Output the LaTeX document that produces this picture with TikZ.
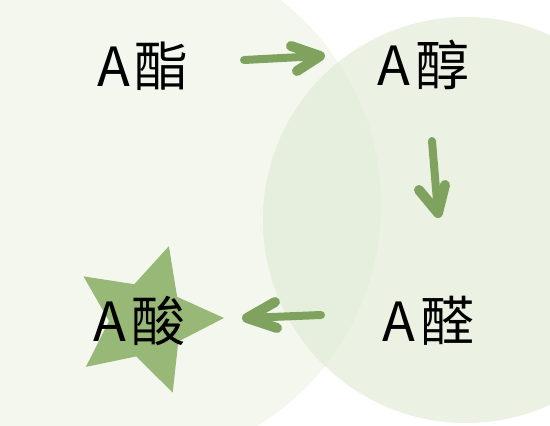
\documentclass[tikz,border=0pt]{standalone}
\usepackage{fontspec}
\usetikzlibrary{calc}
\newfontfamily\cjkfont{Noto Sans CJK SC}
\definecolor{leftc}{HTML}{F4F7EE}
\definecolor{rightc}{HTML}{EBF2E4}
\definecolor{overc}{HTML}{E6EFDE}
\definecolor{arrowc}{HTML}{7FA35E}
\definecolor{starc}{HTML}{97B877}
\tikzset{
  lbl/.style={inner sep=0pt, anchor=base west, font=\cjkfont\fontsize{54}{60}\selectfont},
  brush/.style={draw=arrowc, line width=8pt, line cap=round, line join=round},
  barb/.style={brush, line width=10pt},
}
\begin{document}
\begin{tikzpicture}[x=1pt,y=-1pt]
\useasboundingbox (0,0) rectangle (550,426);
\clip (0,0) rectangle (550,426);
\fill[white] (0,0) rectangle (550,426);
% circles
\fill[leftc] (122,205) circle[radius=259];
\fill[rightc] (466,220) circle[radius=203];
\begin{scope}
\clip (122,205) circle[radius=259];
\fill[overc] (466,220) circle[radius=203];
\end{scope}
% star
\fill[starc] (147,320) ++(-1.5:77)
  \foreach \k in {0,...,4} { -- ($(147,320)+({-1.5+36+72*\k}:38)$) -- ($(147,320)+({-1.5+72*(\k+1)}:77)$) } -- cycle;
% labels
\node[lbl] (ester) at (97,86) {A\hspace{5pt}酯};
\node[lbl] (alcohol) at (377,85) {A\hspace{5pt}醇};
\node[lbl] (aldehyde) at (382,341) {A\hspace{5pt}醛};
\node[lbl] (acid) at (93,341) {A\hspace{5pt}酸};
% arrow 1
\coordinate (a1s) at (244,60); \coordinate (a1t) at (320,56);
\coordinate (a1u) at (291,46); \coordinate (a1l) at (297,71);
\draw[brush] (a1s) -- (a1t);
\draw[barb] (a1u) -- (a1t) -- (a1l);
% arrow 2
\coordinate (a2s) at (432,141); \coordinate (a2t) at (438,213);
\coordinate (a2l) at (419,190); \coordinate (a2r) at (445,185);
\draw[brush] (a2s) -- (a2t);
\draw[barb] (a2l) -- (a2t) -- (a2r);
% arrow 3
\coordinate (a3s) at (321,315); \coordinate (a3t) at (247,318);
\coordinate (a3u) at (275,302); \coordinate (a3l) at (277,328);
\draw[brush] (a3s) -- (a3t);
\draw[barb] (a3u) -- (a3t) -- (a3l);
\end{tikzpicture}
\end{document}
